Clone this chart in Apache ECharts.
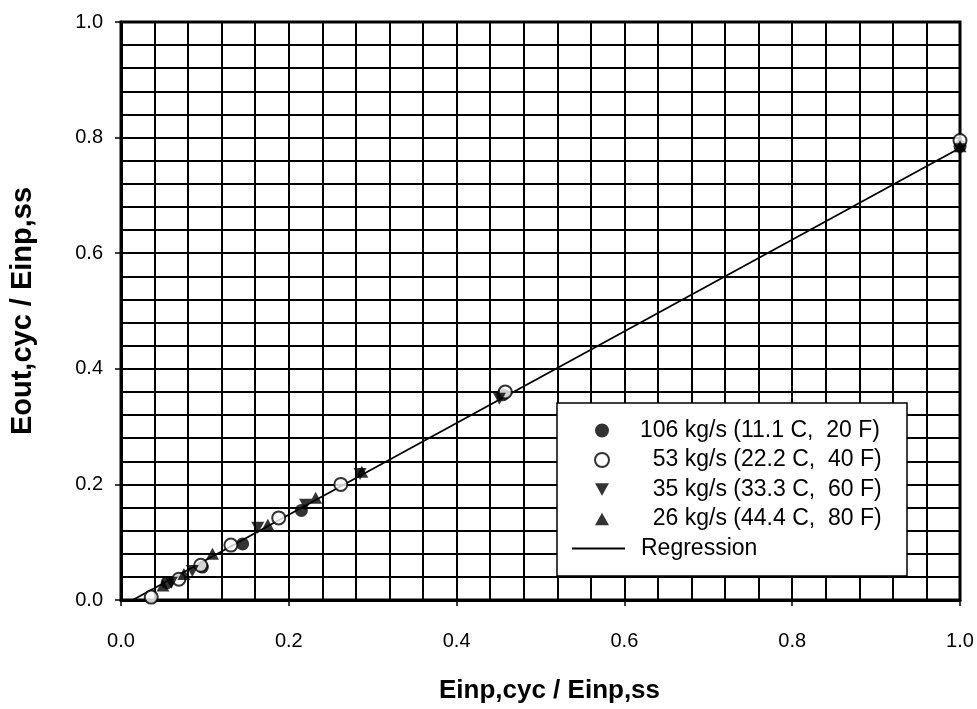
<!DOCTYPE html>
<html>
<head>
<meta charset="utf-8">
<script src="https://cdn.jsdelivr.net/npm/echarts@6/dist/echarts.min.js"></script>
<style>
  html, body { margin: 0; padding: 0; background: #fff; }
  #chart { width: 977px; height: 709px; }
</style>
</head>
<body>
<div id="chart"></div>
<script>
// legend names (two-digit flows padded so the text lines up like the original)
const seriesNames = [
  '106 kg/s (11.1 C,  20 F)',
  '  53 kg/s (22.2 C,  40 F)',
  '  35 kg/s (33.3 C,  60 F)',
  '  26 kg/s (44.4 C,  80 F)'
]
const axisTicks = [0, 0.2, 0.4, 0.6, 0.8, 1.0]

// [Einp,cyc/Einp,ss, Eout,cyc/Einp,ss]
const flow106 = [[0.055, 0.030], [0.097, 0.057], [0.145, 0.097], [0.215, 0.155], [0.455, 0.355], [1.0, 0.785]]
const flow53 = [[0.036, 0.005], [0.069, 0.036], [0.095, 0.060], [0.131, 0.095], [0.188, 0.142], [0.262, 0.200], [0.458, 0.360], [1.0, 0.795]]
const flow35 = [[0.060, 0.030], [0.085, 0.050], [0.163, 0.125], [0.220, 0.165], [0.285, 0.218], [0.451, 0.348], [1.0, 0.780]]
const flow26 = [[0.050, 0.025], [0.075, 0.045], [0.109, 0.080], [0.175, 0.130], [0.232, 0.177], [0.287, 0.222], [1.0, 0.785]]
const regression = [[0.014, 0.0], [1.0, 0.782]]

const font = '"Liberation Sans", Arial, sans-serif'
const downTri = 'path://M0,0 L10,0 L5,9 Z'
const upTri = 'path://M5,0 L10,9 L0,9 Z'

const chart = echarts.init(document.getElementById('chart'))

function axisCommon(name, nameSize) {
  return {
    type: 'value',
    min: 0,
    max: 1,
    interval: 0.2,
    name: name,
    nameLocation: 'middle',
    nameTextStyle: { fontFamily: font, fontSize: nameSize, fontWeight: 'bold', color: '#000' },
    axisLine: { show: true, onZero: false, lineStyle: { color: '#000', width: 3 } },
    axisTick: { show: true, inside: false, length: 6, lineStyle: { color: '#000', width: 1.5 } },
    axisLabel: {
      fontFamily: font, fontSize: 20, color: '#000',
      formatter: v => axisTicks.some(t => Math.abs(t - v) < 1e-9) ? v.toFixed(1) : ''
    },
    splitLine: { show: true, lineStyle: { color: '#000', width: 2 } },
    minorTick: { show: false, splitNumber: 5 },
    minorSplitLine: { show: true, lineStyle: { color: '#000', width: 2 } }
  }
}

const xAxis = axisCommon('Einp,cyc / Einp,ss', 26)
xAxis.nameGap = 78
xAxis.nameTextStyle.padding = [0, 0, 0, 18]
xAxis.axisLabel.margin = 31
const yAxis = axisCommon('Eout,cyc / Einp,ss', 29)
yAxis.nameGap = 84
yAxis.axisLabel.margin = 18

const legendText = { fontFamily: font, fontSize: 23, color: '#000' }

const option = {
  animation: false,
  backgroundColor: '#fff',
  grid: { left: 118, right: 17, top: 22, bottom: 106, show: true, borderColor: '#000', borderWidth: 3 },
  xAxis: xAxis,
  yAxis: yAxis,
  graphic: [{
    type: 'rect',
    z: 3,
    shape: { x: 557, y: 403, width: 350, height: 173 },
    style: { fill: '#fff', stroke: '#000', lineWidth: 1.5 }
  }],
  legend: [
    {
      orient: 'vertical',
      left: 594,
      top: 419,
      padding: 0,
      itemWidth: 14,
      itemHeight: 14,
      itemGap: 6.5,
      z: 5,
      data: [
        { name: seriesNames[0], icon: 'circle' },
        { name: seriesNames[1], icon: 'emptyCircle' },
        { name: seriesNames[2], icon: downTri },
        { name: seriesNames[3], icon: upTri }
      ],
      formatter: name => '{t|' + name + '}',
      textStyle: { rich: { t: Object.assign({ padding: [0, 0, 0, 26] }, legendText) } }
    },
    {
      left: 572,
      top: 537,
      padding: 0,
      itemWidth: 53,
      itemHeight: 2,
      z: 5,
      data: [{ name: 'Regression', icon: 'rect' }],
      formatter: name => '{r|' + name + '}',
      textStyle: { rich: { r: Object.assign({ padding: [0, 0, 0, 11] }, legendText) } }
    }
  ],
  series: [
    {
      name: 'Regression',
      type: 'line',
      data: regression,
      symbol: 'none',
      z: 1,
      lineStyle: { color: '#000', width: 1.8 },
      itemStyle: { color: '#000' }
    },
    {
      name: seriesNames[0],
      type: 'scatter',
      data: flow106,
      symbol: 'circle',
      symbolSize: 13,
      itemStyle: { color: '#000' }
    },
    {
      name: seriesNames[1],
      type: 'scatter',
      data: flow53,
      symbol: 'emptyCircle',
      symbolSize: 13,
      itemStyle: { color: '#000', borderWidth: 1.5 }
    },
    {
      name: seriesNames[2],
      type: 'scatter',
      data: flow35,
      symbol: downTri,
      symbolSize: [13, 12],
      itemStyle: { color: '#000' }
    },
    {
      name: seriesNames[3],
      type: 'scatter',
      data: flow26,
      symbol: upTri,
      symbolSize: [13, 12],
      itemStyle: { color: '#000' }
    }
  ]
}

chart.setOption(option)
window.addEventListener('resize', () => chart.resize())
</script>
</body>
</html>
